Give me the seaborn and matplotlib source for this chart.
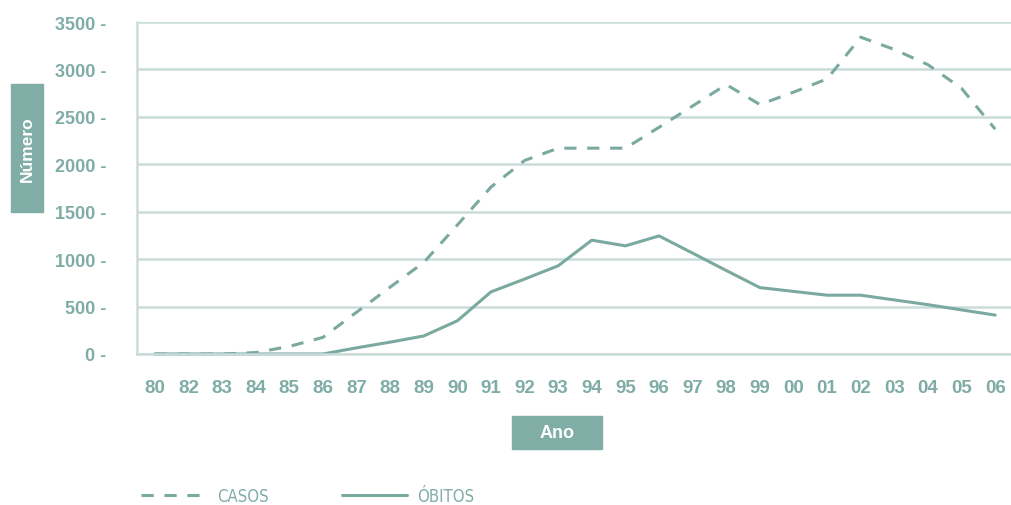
import pandas as pd
import seaborn as sns
import matplotlib.pyplot as plt
from matplotlib.patches import Rectangle

# Data
anos = ['80', '82', '83', '84', '85', '86', '87', '88', '89', '90', '91', '92', '93',
        '94', '95', '96', '97', '98', '99', '00', '01', '02', '03', '04', '05', '06']
casos = [0, 0, 0, 15, 80, 175, 440, 705, 965, 1360, 1760, 2040, 2170,
         2170, 2170, 2390, 2615, 2840, 2630, 2760, 2900, 3340, 3210, 3050, 2800, 2370]
obitos = [0, 0, 0, 0, 0, 0, 65, 125, 190, 350, 655, 790, 930,
          1200, 1140, 1245, 1063, 880, 700, 660, 620, 620, 570, 520, 465, 410]
yticks = [0, 500, 1000, 1500, 2000, 2500, 3000, 3500]

TEAL = '#7aa9a0'
TEXT = '#7fada6'
GRID = '#c9dcd9'
BOX = '#80ada5'

sns.set_style('white')
plt.rcParams['font.family'] = ['Liberation Sans', 'DejaVu Sans']

df = pd.DataFrame({
    'pos': list(range(len(anos))) * 2,
    'valor': casos + obitos,
    'serie': ['CASOS'] * len(anos) + ['ÓBITOS'] * len(anos),
})

fig = plt.figure(figsize=(10.12, 5.06), dpi=100)
ax = fig.add_axes([137 / 1012, 1 - 355 / 506, 875 / 1012, 332 / 506])

sns.lineplot(data=df, x='pos', y='valor', style='serie',
             dashes={'CASOS': (4, 3.5), 'ÓBITOS': ''},
             color=TEAL, linewidth=2.2, ax=ax, legend=True)

ax.set_xlim(-0.53, 25.28)
ax.set_ylim(0, 3500)
for ln in ax.lines:
    ln.set_clip_on(False)

# y axis: gridlines + short tick marks
ax.set_yticks(yticks)
ax.set_yticklabels([f'{v} -' for v in yticks])
ax.yaxis.grid(True, color=GRID, linewidth=1.8)
ax.tick_params(axis='y', length=6, width=1.8, color=GRID, pad=16,
               labelsize=13, labelcolor=TEXT)

# x axis: labels at categories, marks at boundaries
ax.set_xticks(range(len(anos)))
ax.set_xticklabels(anos)
ax.set_xticks([i - 0.5 for i in range(len(anos) + 1)], minor=True)
ax.tick_params(axis='x', which='major', length=0, pad=18, labelsize=13.5, labelcolor=TEXT)
ax.tick_params(axis='x', which='minor', length=6, width=1.5, color=GRID)
for lab in ax.get_xticklabels() + ax.get_yticklabels():
    lab.set_fontweight('bold')

ax.set_xlabel('')
ax.set_ylabel('')
sns.despine(ax=ax, top=True, right=True)
for side in ['left', 'bottom']:
    ax.spines[side].set_color(GRID)
    ax.spines[side].set_linewidth(1.8)
ax.set_axisbelow(True)

# label boxes
fig.patches.append(Rectangle((11 / 1012, 1 - 213 / 506), 32 / 1012, 128 / 506,
                             transform=fig.transFigure, color=BOX, zorder=0))
fig.text(27 / 1012, 1 - 149 / 506, 'Número', rotation=90, ha='center', va='center',
         color='white', fontsize=12.5, fontweight='bold')
fig.patches.append(Rectangle((512 / 1012, 1 - 450 / 506), 90 / 1012, 33 / 506,
                             transform=fig.transFigure, color=BOX, zorder=0))
fig.text(557 / 1012, 1 - 434 / 506, 'Ano', ha='center', va='center',
         color='white', fontsize=13, fontweight='bold')

# legend at bottom
handles, labels = ax.get_legend_handles_labels()
ax.get_legend().remove()
leg = fig.legend(handles, labels, loc='center left', bbox_to_anchor=(141 / 1012, 1 - 497 / 506),
                 ncol=2, frameon=False,
                 prop={'family': 'DejaVu Sans', 'stretch': 'condensed', 'size': 12},
                 handlelength=3.9, handletextpad=0.65, columnspacing=4.4,
                 borderpad=0, borderaxespad=0)
for t in leg.get_texts():
    t.set_color(TEXT)

fig.savefig('out.png', dpi=100)
